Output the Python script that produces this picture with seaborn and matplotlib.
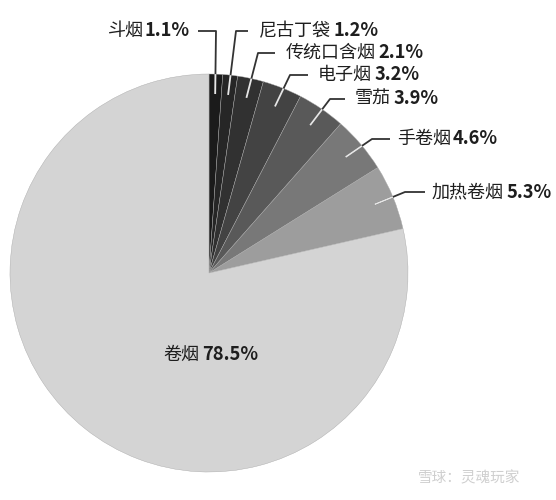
import numpy as np
import matplotlib
matplotlib.use("Agg")
import matplotlib.pyplot as plt
from matplotlib.patches import Circle
import seaborn as sns

# 数据（顺时针，从正上方开始）
labels = ["斗烟", "尼古丁袋", "传统口含烟", "电子烟", "雪茄", "手卷烟", "加热卷烟", "卷烟"]
shares = [1.1, 1.2, 2.1, 3.2, 3.9, 4.6, 5.3, 78.5]
grays = ["#1b1b1b", "#262626", "#313131", "#434343", "#595959", "#787878", "#9d9d9d", "#d4d4d4"]

# 标签布局（像素）: 折点x, 水平线终点x, 文字x, y
label_layout = {
    "斗烟":     (216, 198, 190, 31),
    "尼古丁袋": (236, 248, 259, 31),
    "传统口含烟": (258, 275, 286, 53),
    "电子烟":   (290, 308, 318, 75),
    "雪茄":     (330, 345, 355, 99),
    "手卷烟":   (372, 390, 397, 139),
    "加热卷烟": (405, 425, 432, 192),
}

W, H = 556, 500
CX, CY, R = 209, 273, 199

sns.set_theme(style="white")
plt.rcParams["font.family"] = ["Noto Sans CJK SC", "DejaVu Sans"]


def px(x, y):
    return (x - CX) / R, (CY - y) / R


fig = plt.figure(figsize=(W / 100, H / 100), dpi=100)
fig.patch.set_facecolor("white")
ax = fig.add_axes([0, 0, 1, 1])

wedges, _ = ax.pie(shares, colors=grays, startangle=90, counterclock=False,
                   radius=1, center=(0, 0),
                   wedgeprops=dict(linewidth=0.3, edgecolor="#a8a8a8"))

ax.set_xlim(-CX / R, (W - CX) / R)
ax.set_ylim((CY - H) / R, CY / R)
ax.set_aspect("auto")
ax.axis("off")

clip = Circle((0, 0), 1.0, transform=ax.transData)
txt_color = "#1e1e1e"
fs = 13
fs_num = 13.2

cum = np.cumsum([0] + shares[:-1])
for name, start, val in zip(labels, cum, shares):
    if name not in label_layout:
        continue
    mid = np.deg2rad((start + val / 2) * 3.6)
    x0, y0 = 0.9 * np.sin(mid), 0.9 * np.cos(mid)
    ex, hx, tx, ty = label_layout[name]
    e = px(ex, ty)
    h = px(hx, ty)
    xs = [x0, e[0], h[0]]
    ys = [y0, e[1], h[1]]
    ax.plot(xs, ys, color="#333333", lw=1.3, solid_capstyle="butt", zorder=3)
    inner, = ax.plot(xs, ys, color="#e6e6e6", lw=1.3, solid_capstyle="butt", zorder=4)
    inner.set_clip_path(clip)

    pct = f"{val:.1f}%"
    t = px(tx, ty)
    if name == "斗烟":
        num = ax.text(t[0], t[1], pct, ha="right", va="center", fontsize=fs_num,
                      fontweight="bold", color=txt_color)
        ax.annotate(name, xy=(0, 0.5), xycoords=num, xytext=(-1, 0),
                    textcoords="offset points", ha="right", va="center",
                    fontsize=fs, fontweight="medium", color=txt_color)
    else:
        cn = ax.text(t[0], t[1], name, ha="left", va="center", fontsize=fs,
                     fontweight="medium", color=txt_color)
        ax.annotate(pct, xy=(1, 0.5), xycoords=cn, xytext=(1.5, 0),
                    textcoords="offset points", ha="left", va="center",
                    fontsize=fs_num, fontweight="bold", color=txt_color)

# 卷烟 标签在饼内
t = px(163, 355)
cn = ax.text(t[0], t[1], "卷烟", ha="left", va="center", fontsize=fs,
             fontweight="medium", color=txt_color)
ax.annotate(f"{shares[-1]:.1f}%", xy=(1, 0.5), xycoords=cn, xytext=(2, 0),
            textcoords="offset points", ha="left", va="center",
            fontsize=fs_num, fontweight="bold", color=txt_color)

# 水印
fig.text(418 / W, 1 - 478 / H, "雪球：灵魂玩家", ha="left", va="center",
         fontsize=10.5, color="#cfcfcf")

fig.savefig("out.png", dpi=100, facecolor="white")
